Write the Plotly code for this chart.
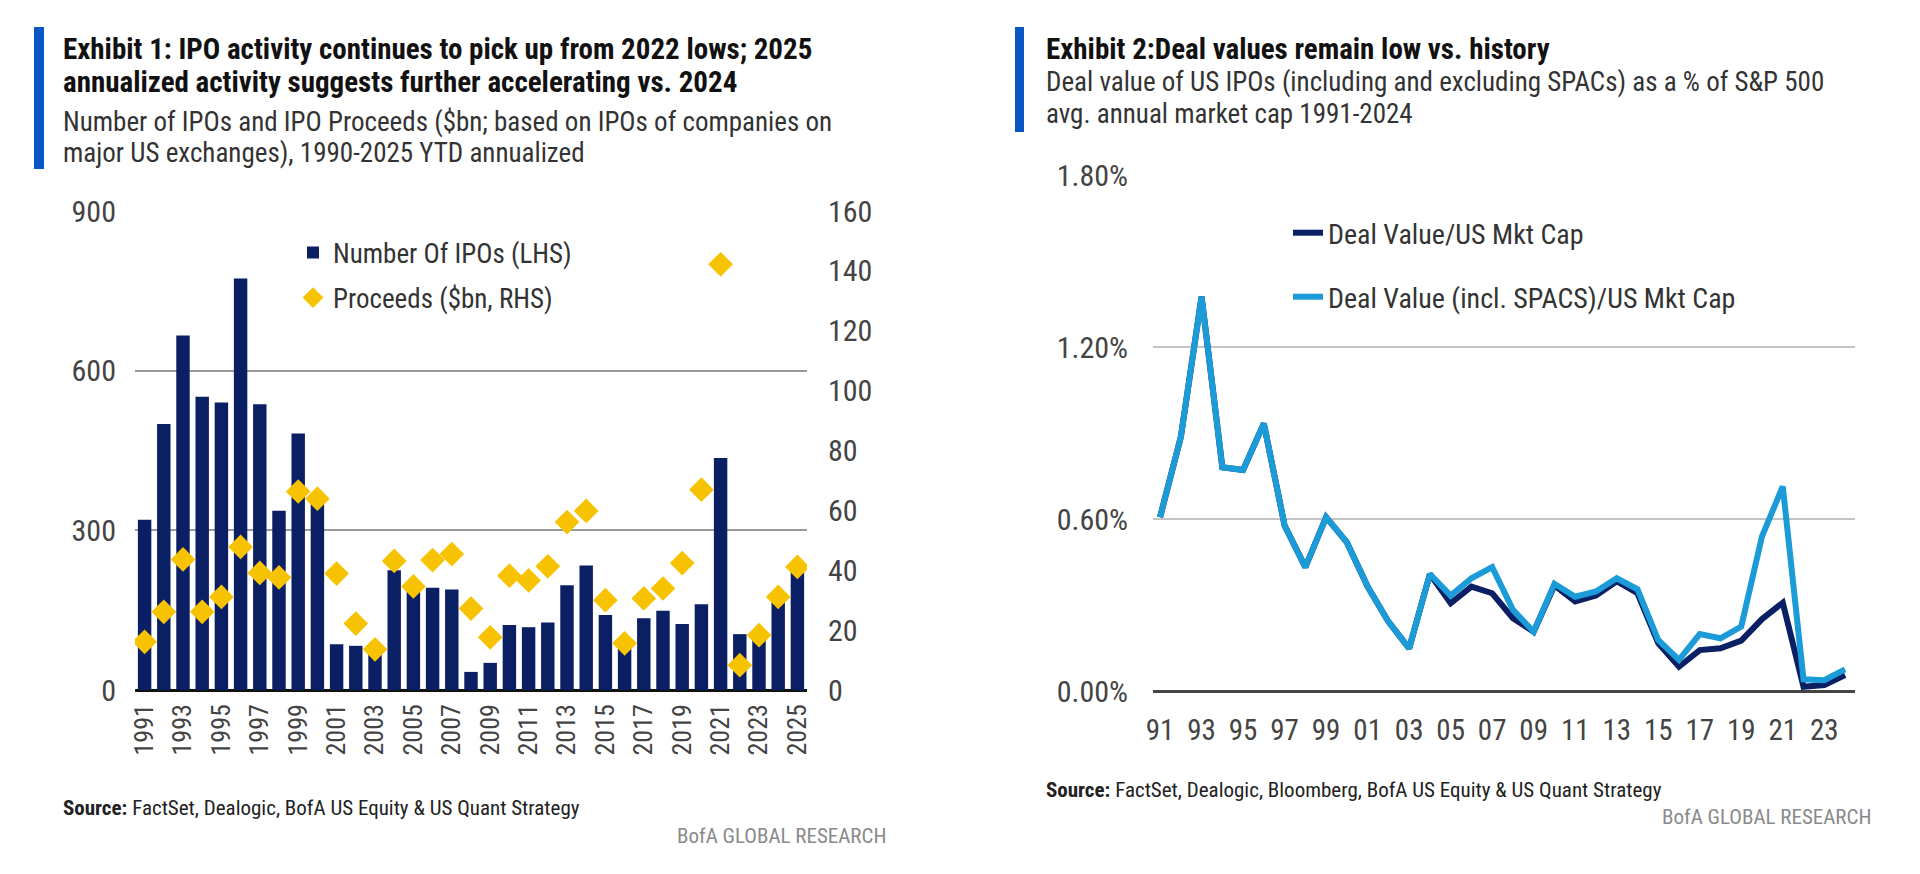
import plotly.graph_objects as go

# ---- Exhibit 1 data ----
years_ipo = list(range(1991, 2026))
num_ipos = [320, 500, 666, 551, 540, 773, 537, 337, 482, 355,
            86, 83, 70, 225, 195, 192, 189, 34, 51, 122,
            118, 127, 197, 234, 141, 78, 135, 149, 124, 161,
            436, 105, 95, 168, 222]
proceeds = [16.1, 26.1, 43.6, 26.1, 31.1, 47.8, 39.1, 37.6, 66.3, 63.9,
            38.9, 22.2, 13.6, 43.1, 34.6, 43.4, 45.4, 27.2, 17.6, 38.2,
            36.6, 41.3, 56.1, 59.8, 30.0, 15.6, 30.6, 33.9, 42.4, 66.9,
            142.2, 8.3, 18.3, 31.1, 41.1]
ipo_ticks = list(range(1991, 2026, 2))

# ---- Exhibit 2 data ----
years_deal = list(range(1991, 2025))
deal_ex_spac = [0.608, 0.887, 1.376, 0.782, 0.772, 0.934, 0.579, 0.434, 0.608, 0.52,
                0.366, 0.244, 0.151, 0.41, 0.308, 0.366, 0.343, 0.256, 0.209, 0.37,
                0.314, 0.335, 0.385, 0.343, 0.169, 0.087, 0.145, 0.151, 0.178, 0.253,
                0.31, 0.017, 0.023, 0.058]
deal_incl_spac = [0.608, 0.887, 1.376, 0.782, 0.772, 0.934, 0.579, 0.434, 0.608, 0.52,
                  0.366, 0.244, 0.151, 0.41, 0.335, 0.395, 0.434, 0.285, 0.209, 0.376,
                  0.331, 0.349, 0.395, 0.357, 0.18, 0.111, 0.201, 0.186, 0.227, 0.541,
                  0.715, 0.043, 0.04, 0.078]
deal_ticks = list(range(1991, 2024, 2))
deal_ticktext = [str(y)[2:] for y in deal_ticks]

NAVY = '#0b1f65'
GOLD = '#f7c300'
LIGHT = '#1b9bd7'
BLUE_BAR = '#0a56c4'
FONT = 'Liberation Sans Narrow, Roboto Condensed, Open Sans, sans-serif'

# the page body has an 8px margin, so the figure is drawn 8px in from the window edge
OFF = 8
W, H = 1920 - 2 * OFF, 874 - 2 * OFF


def px_x(v):
    return (v - OFF) / W


def px_y(v):
    return 1 - (v - OFF) / H


fig = go.Figure()

fig.add_trace(go.Bar(
    x=years_ipo, y=num_ipos, name='Number Of IPOs (LHS)',
    marker_color=NAVY, xaxis='x', yaxis='y', legend='legend'
))
fig.add_trace(go.Scatter(
    x=years_ipo, y=proceeds, name='Proceeds ($bn, RHS)', mode='markers',
    marker=dict(symbol='diamond', size=19, color=GOLD),
    xaxis='x', yaxis='y2', legend='legend2'
))
fig.add_trace(go.Scatter(
    x=years_deal, y=deal_ex_spac, name='Deal Value/US Mkt Cap', mode='lines',
    line=dict(color=NAVY, width=6), xaxis='x2', yaxis='y3', legend='legend3'
))
fig.add_trace(go.Scatter(
    x=years_deal, y=deal_incl_spac, name='Deal Value (incl. SPACS)/US Mkt Cap', mode='lines',
    line=dict(color=LIGHT, width=6), xaxis='x2', yaxis='y3', legend='legend4'
))

tick_font = dict(family=FONT, size=30, color='#444444')


def legend_at(x, y, size):
    return dict(x=px_x(x), y=px_y(y), xanchor='left', yanchor='middle',
                bgcolor='rgba(0,0,0,0)', font=dict(family=FONT, size=size, color='#333333'))


fig.update_layout(
    template='none',
    width=W, height=H,
    margin=dict(l=0, r=0, t=0, b=0),
    paper_bgcolor='white', plot_bgcolor='white',
    showlegend=True,
    bargap=0.3,
    xaxis=dict(domain=[px_x(135), px_x(807)], range=[1990.5, 2025.5],
               tickvals=ipo_ticks, ticktext=[str(t) for t in ipo_ticks], tickangle=-90,
               tickfont=dict(family=FONT, size=26, color='#444444'), ticklabelstandoff=8,
               showgrid=False, showline=False, ticks='', zeroline=False),
    yaxis=dict(domain=[px_y(690), px_y(211)], range=[0, 900], tickvals=[0, 300, 600, 900],
               tickfont=tick_font, ticklabelstandoff=18,
               showgrid=True, gridcolor='#9a9a9a', gridwidth=1.5,
               zeroline=True, zerolinecolor='#111111', zerolinewidth=3,
               ticks='', showline=False, anchor='x'),
    yaxis2=dict(overlaying='y', side='right', range=[0, 160], tickvals=list(range(0, 161, 20)),
                tickfont=tick_font, ticklabelstandoff=20,
                showgrid=False, zeroline=False, ticks='', anchor='x'),
    xaxis2=dict(domain=[px_x(1153), px_x(1855)], range=[1990.66, 2024.48],
                tickvals=deal_ticks, ticktext=deal_ticktext, tickangle=0,
                tickfont=dict(family=FONT, size=29, color='#444444'), ticklabelstandoff=18,
                showgrid=False, showline=False, ticks='', zeroline=False,
                anchor='y3'),
    yaxis3=dict(domain=[px_y(691.7), px_y(175)], range=[0, 1.8], tickvals=[0, 0.6, 1.2, 1.8],
                ticktext=['0.00%', '0.60%', '1.20%', '1.80%'],
                tickfont=tick_font, ticklabelstandoff=24,
                showgrid=True, gridcolor='#c4c4c4', gridwidth=2,
                zeroline=True, zerolinecolor='#444444', zerolinewidth=3,
                ticks='', showline=False, anchor='x2'),
    legend=legend_at(293, 253, 27),
    legend2=legend_at(293, 298, 27),
    legend3=legend_at(1288, 233, 28),
    legend4=legend_at(1288, 297, 28),
)

# title accent bars
for x0, x1, y0, y1 in [(34, 44, 27, 169), (1015, 1024, 27, 132)]:
    fig.add_shape(type='rect', xref='paper', yref='paper',
                  x0=px_x(x0), x1=px_x(x1), y0=px_y(y1), y1=px_y(y0),
                  fillcolor=BLUE_BAR, line_width=0)

texts = [
    (61, 49, '<b>Exhibit 1: IPO activity continues to pick up from 2022 lows; 2025</b>', 29, '#111111'),
    (61, 82, '<b>annualized activity suggests further accelerating vs. 2024</b>', 29, '#111111'),
    (61, 122, 'Number of IPOs and IPO Proceeds ($bn; based on IPOs of companies on', 27, '#333333'),
    (61, 153, 'major US exchanges), 1990-2025 YTD annualized', 27, '#333333'),
    (1044, 49, '<b>Exhibit 2:Deal values remain low vs. history</b>', 29, '#111111'),
    (1044, 82, 'Deal value of US IPOs (including and excluding SPACs) as a % of S&P 500', 27, '#333333'),
    (1044, 114, 'avg. annual market cap 1991-2024', 27, '#333333'),
    (61, 808, '<b>Source:</b> FactSet, Dealogic, BofA US Equity & US Quant Strategy', 21, '#222222'),
    (1044, 790, '<b>Source:</b> FactSet, Dealogic, Bloomberg, BofA US Equity & US Quant Strategy', 21, '#222222'),
]
for x, y, t, s, c in texts:
    fig.add_annotation(xref='paper', yref='paper', x=px_x(x), y=px_y(y), text=t,
                       showarrow=False, xanchor='left', yanchor='middle',
                       font=dict(family=FONT, size=s, color=c))

for x, y in [(888, 836), (1873, 817)]:
    fig.add_annotation(xref='paper', yref='paper', x=px_x(x), y=px_y(y),
                       text='BofA GLOBAL RESEARCH', showarrow=False,
                       xanchor='right', yanchor='middle',
                       font=dict(family=FONT, size=21, color='#8a8a8a'))

fig.write_html('out.html')
